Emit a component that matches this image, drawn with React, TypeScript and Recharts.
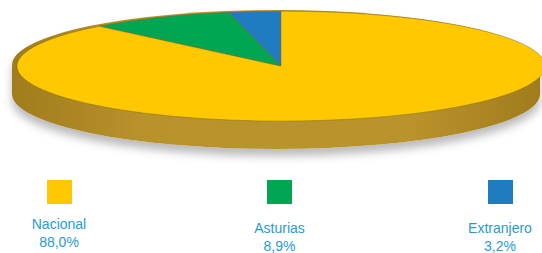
import { Cell, Pie, PieChart } from 'recharts'

// pie is drawn counter-clockwise from 12 o'clock, so the small slices come first
const labels = ['Extranjero', 'Asturias', 'Nacional']
const values = [3.2, 8.9, 88.0]
const valueText = ['3,2%', '8,9%', '88,0%']
const colors = ['#1f7cc1', '#00a651', '#ffc800']

// legend reads left to right
const legendOrder = [2, 1, 0]

const RX = 264
const RY = 55
const DEPTH = 29
const K = RY / RX
const CX = 276
const CY_TOP = 65

const rows = labels.map((name, i) => ({ name, value: values[i] }))

export default function App() {
  const svgH = 2 * RX + 20
  return (
    <div
      style={{
        position: 'absolute',
        left: 0,
        top: 0,
        width: 542,
        height: 253,
        background: '#fff',
        overflow: 'hidden',
        fontFamily: '"Liberation Sans", Arial, sans-serif',
      }}
    >
      {/* side wall of the disc */}
      <div
        style={{
          position: 'absolute',
          left: CX - RX,
          top: CY_TOP - RY,
          width: 2 * RX,
          height: 2 * RY + DEPTH,
          borderRadius: `${RX}px / ${RY}px`,
          background:
            'linear-gradient(90deg, #a17c1c 0%, #b8922b 25%, #b9932c 75%, #a17c1c 100%)',
          boxShadow: '0 7px 9px rgba(60,60,70,0.35)',
        }}
      />
      <div
        style={{
          position: 'absolute',
          left: 0,
          top: CY_TOP - (svgH / 2) * K,
          width: 542,
          height: svgH,
          transform: `scaleY(${K})`,
          transformOrigin: '0 0',
        }}
      >
        <PieChart width={542} height={svgH}>
          <Pie
            data={rows}
            dataKey="value"
            nameKey="name"
            cx={CX}
            cy={svgH / 2}
            outerRadius={RX}
            startAngle={90}
            endAngle={450}
            stroke="#7d6b22"
            strokeWidth={0.8}
            isAnimationActive={false}
          >
            {rows.map((r, i) => (
              <Cell key={r.name} fill={colors[i]} vectorEffect="non-scaling-stroke" />
            ))}
          </Pie>
        </PieChart>
      </div>

      {legendOrder.map((idx, j) => {
        const center = 59 + j * 220.5
        const low = j > 0
        return (
          <div key={labels[idx]}>
            <div
              style={{
                position: 'absolute',
                left: center - 12.5,
                top: 180,
                width: 25,
                height: 24,
                background: colors[idx],
              }}
            />
            <div
              style={{
                position: 'absolute',
                left: center - 60,
                width: 120,
                top: low ? 219 : 215,
                textAlign: 'center',
                fontSize: 14,
                lineHeight: '18px',
                color: '#2a9ad6',
              }}
            >
              <div>{labels[idx]}</div>
              <div>{valueText[idx]}</div>
            </div>
          </div>
        )
      })}
    </div>
  )
}
